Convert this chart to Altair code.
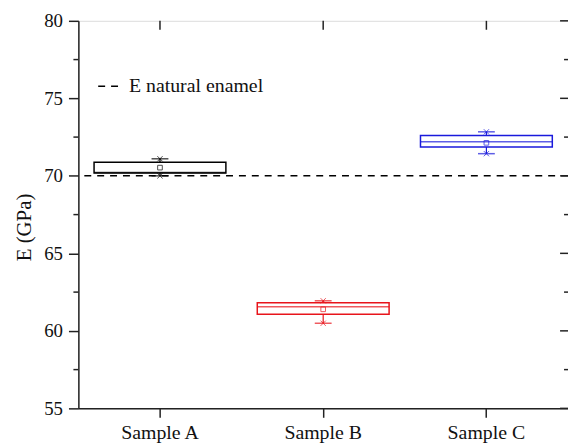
import altair as alt
import pandas as pd

samples = ["Sample A", "Sample B", "Sample C"]
colors = ["#000000", "#e8141b", "#1a1adc"]
w_min = [70.0, 60.49, 71.43]
q1 = [70.18, 61.07, 71.86]
median = [70.22, 61.56, 72.20]
q3 = [70.88, 61.81, 72.61]
w_max = [71.10, 61.94, 72.84]
mean = [70.53, 61.39, 72.13]

ref_value = 70
ref_label = "E natural enamel"

major_ticks = [55, 60, 65, 70, 75, 80]
minor_ticks = [57.5, 62.5, 67.5, 72.5, 77.5]

FONT = "Times New Roman, Liberation Serif, DejaVu Serif, serif"
W, H = 494, 391

df = pd.DataFrame({"sample": samples, "min": w_min, "q1": q1, "median": median,
                   "q3": q3, "max": w_max, "mean": mean})
ends = pd.DataFrame({"sample": samples * 2, "v": w_max + w_min})
ref = pd.DataFrame({"v": [ref_value], "label": [ref_label]})
majors = pd.DataFrame({"v": major_ticks})
minors = pd.DataFrame({"v": minor_ticks})
cats = pd.DataFrame({"sample": samples})

xs = alt.Scale(domain=samples, paddingInner=0, paddingOuter=0)
ys = alt.Scale(domain=[55, 80], nice=False, zero=False)
cs = alt.Scale(domain=samples, range=colors)

X = alt.X("sample:N", scale=xs, title=None,
          axis=alt.Axis(labelAngle=0, tickSize=9, labelPadding=5, labelFontSize=20,
                        labelFont=FONT, domainColor="#222", domainWidth=1.5,
                        tickColor="#222", tickWidth=1.5, labelColor="#111"))
Yaxis = alt.Axis(values=major_ticks, tickSize=10, labelPadding=6, labelFontSize=19,
                 labelFont=FONT, title="E (GPa)", titleFont=FONT, titleFontSize=21,
                 titleFontWeight="normal", titleAngle=-90, titleX=-54, titleY=208,
                 titleAlign="center", titleBaseline="middle", grid=False,
                 domainColor="#222", domainWidth=1.5, tickColor="#222", tickWidth=1.5,
                 labelColor="#111", titleColor="#111")
C = alt.Color("sample:N", scale=cs, legend=None)

base = alt.Chart(df)

refline = alt.Chart(ref).mark_rule(color="black", strokeWidth=1.5).encode(
    y=alt.Y("v:Q", scale=ys, axis=Yaxis),
    strokeDash=alt.StrokeDash("label:N",
        scale=alt.Scale(domain=[ref_label], range=[[7, 6]]),
        legend=alt.Legend(title=None, orient="none", legendX=19, legendY=54,
                          symbolType="stroke", symbolSize=484, symbolDash=[7, 8],
                          symbolStrokeColor="black", symbolStrokeWidth=1.5,
                          labelFont=FONT, labelFontSize=20, labelColor="#111",
                          labelOffset=8, padding=0)),
)

boxes = base.mark_bar(filled=False, size=133, strokeWidth=1.5).encode(
    x=X, y=alt.Y("q1:Q", scale=ys), y2="q3:Q", color=C)
med = base.mark_tick(size=133, thickness=1.5).encode(
    x=alt.X("sample:N", scale=xs), y=alt.Y("median:Q", scale=ys), color=C)
wh_low = base.mark_rule(strokeWidth=1.2).encode(
    x=alt.X("sample:N", scale=xs), y=alt.Y("min:Q", scale=ys), y2="q1:Q", color=C)
wh_high = base.mark_rule(strokeWidth=1.2).encode(
    x=alt.X("sample:N", scale=xs), y=alt.Y("q3:Q", scale=ys), y2="max:Q", color=C)
caps = alt.Chart(ends).mark_tick(size=17, thickness=1.5).encode(
    x=alt.X("sample:N", scale=xs), y=alt.Y("v:Q", scale=ys), color=C)
crosses = alt.Chart(ends).mark_point(shape="M-1,-1L1,1M-1,1L1,-1", size=28,
                                      strokeWidth=1, filled=False).encode(
    x=alt.X("sample:N", scale=xs), y=alt.Y("v:Q", scale=ys), color=C)
means = base.mark_point(shape="square", size=22, filled=False, strokeWidth=1).encode(
    x=alt.X("sample:N", scale=xs), y=alt.Y("mean:Q", scale=ys), color=C)

left_minor = alt.Chart(minors).mark_rule(color="#222", strokeWidth=1.5).encode(
    y=alt.Y("v:Q", scale=ys), x=alt.value(-5), x2=alt.value(0))
right_major = alt.Chart(majors).mark_rule(color="#222", strokeWidth=1.5).encode(
    y=alt.Y("v:Q", scale=ys), x=alt.value(W - 8), x2=alt.value(W))
right_minor = alt.Chart(minors).mark_rule(color="#222", strokeWidth=1.5).encode(
    y=alt.Y("v:Q", scale=ys), x=alt.value(W - 4), x2=alt.value(W))
top_ticks = alt.Chart(cats).mark_rule(color="#222", strokeWidth=1.5).encode(
    x=alt.X("sample:N", scale=xs), y=alt.value(0), y2=alt.value(9))

chart = alt.layer(
    refline, boxes, med, wh_low, wh_high, caps, crosses, means,
    left_minor, right_major, right_minor, top_ticks,
).properties(
    width=W, height=H,
    autosize=alt.AutoSizeParams(type="none"),
    padding={"left": 71, "top": 11, "right": 0, "bottom": 33},
).configure_view(stroke="#222", strokeWidth=1.5).configure(background="white")

chart.save("out.html", embed_options={"renderer": "svg", "actions": False})
